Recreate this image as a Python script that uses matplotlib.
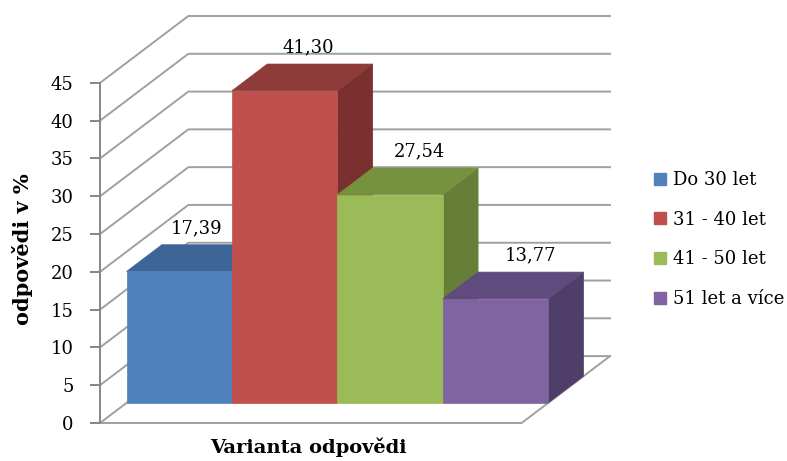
import numpy as np
import matplotlib.pyplot as plt
from matplotlib.patches import Polygon, Patch

# Data
categories = ['Do 30 let', '31 - 40 let', '41 - 50 let', '51 let a více']
values = [17.39, 41.30, 27.54, 13.77]
value_labels = ['17,39', '41,30', '27,54', '13,77']
yticks = np.arange(0, 50, 5)

# Colours: front, top, side
front = ['#4F81BD', '#C0504D', '#9BBB59', '#8064A2']
top = ['#3D6595', '#8E3B39', '#77923F', '#5F4B7D']
side = ['#385D8A', '#7A302E', '#667E37', '#4F3E68']

# Oblique depth offset (in data units) of the 3D box
DX = 88 / 105
DY = 67 / 7.57
Z0, Z1 = 0.3, 0.7   # bars sit in the middle of the floor depth
YMAX = 45

plt.rcParams['font.family'] = 'DejaVu Serif'

fig = plt.figure(figsize=(7.87, 4.61), dpi=100)
ax = fig.add_axes([100 / 787, 38 / 461, 510 / 787, 407 / 461])
n = len(values)
ax.set_xlim(0, n + DX)
ax.set_ylim(0, YMAX + DY)

grid_c = '#A0A0A0'
# walls: diagonal on the left side wall, then horizontal along the back wall
for t in yticks:
    ax.plot([0, DX, n + DX], [t, t + DY, t + DY], color=grid_c, lw=1.4, zorder=1,
            clip_on=False)
# floor edges
ax.plot([0, n, n + DX], [0, 0, DY], color=grid_c, lw=1.4, zorder=1, clip_on=False)


def pt(x, y, z):
    return (x + z * DX, y + z * DY)


for i, v in enumerate(values):
    x0, x1 = i, i + 1
    side_face = [pt(x1, 0, Z0), pt(x1, 0, Z1), pt(x1, v, Z1), pt(x1, v, Z0)]
    top_face = [pt(x0, v, Z0), pt(x1, v, Z0), pt(x1, v, Z1), pt(x0, v, Z1)]
    front_face = [pt(x0, 0, Z0), pt(x1, 0, Z0), pt(x1, v, Z0), pt(x0, v, Z0)]
    for face, c in ((side_face, side[i]), (top_face, top[i]), (front_face, front[i])):
        ax.add_patch(Polygon(face, closed=True, facecolor=c, edgecolor=c, lw=0.5,
                             zorder=2 + i, clip_on=False))
    lx, ly = pt(i + 0.5 + 0.055 * i, v + 4, 0.5)
    ax.text(lx, ly, value_labels[i], ha='center', va='center', fontsize=13,
            zorder=10, clip_on=False)

# value axis on the front-left edge
for s in ('top', 'right', 'bottom'):
    ax.spines[s].set_visible(False)
ax.spines['left'].set_bounds(0, YMAX)
ax.spines['left'].set_color('#868686')
ax.spines['left'].set_linewidth(1.4)
ax.set_yticks(yticks)
ax.set_yticklabels([str(t) for t in yticks], fontsize=13)
ax.tick_params(axis='y', direction='out', length=7, width=1.4, color='#868686', pad=12)
ax.set_xticks([])
ax.patch.set_visible(False)

fig.text(23 / 787, 1 - 249 / 461, 'odpovědi v %', rotation=90, ha='center', va='center',
         fontsize=15, fontweight='bold')
fig.text(308 / 787, 1 - 447 / 461, 'Varianta odpovědi', ha='center', va='center',
         fontsize=14, fontweight='bold')

handles = [Patch(facecolor=c, edgecolor=c) for c in front]
fig.legend(handles, categories, loc='upper left', bbox_to_anchor=(645 / 787, 1 - 162 / 461),
           frameon=False, fontsize=13, handlelength=0.65, handleheight=0.65,
           handletextpad=0.4, labelspacing=1.2, borderpad=0)

fig.savefig('out.png', dpi=100)
